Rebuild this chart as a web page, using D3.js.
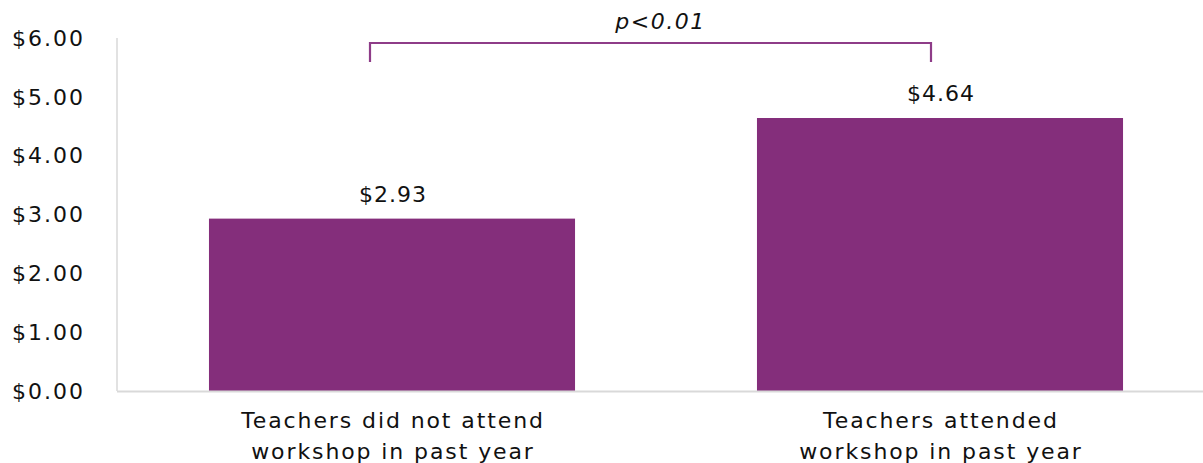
<!DOCTYPE html>
<html>
<head>
<meta charset="utf-8">
<script src="https://cdn.jsdelivr.net/npm/d3@7"></script>
<style>
  html, body { margin: 0; padding: 0; background: #ffffff; }
  svg { display: block; }
  text { font-family: "DejaVu Sans", sans-serif; fill: #111111; }
</style>
</head>
<body>
<svg id="chart" width="1203" height="463"></svg>
<script>
// Average spending per teacher, by workshop attendance
const categories = [
  ["Teachers did not attend", "workshop in past year"],
  ["Teachers attended", "workshop in past year"]
];
const values = [2.93, 4.64];
const valueLabels = ["$2.93", "$4.64"];
const yTicks = [0, 1, 2, 3, 4, 5, 6];
const significance = "p<0.01";

const barColor = "#842E7B";
const bracketColor = "#8E3C88";
const axisColor = "#d9d9d9";

const svg = d3.select("#chart");

const x = d3.scaleBand()
  .domain(d3.range(values.length))
  .range([118, 1214])
  .paddingInner(0.332)
  .paddingOuter(0.166);

const y = d3.scaleLinear().domain([0, 6]).range([391, 38]);

// y axis: line plus dollar labels
svg.append("line")
  .attr("x1", 117).attr("x2", 117)
  .attr("y1", y(6)).attr("y2", y(0))
  .attr("stroke", axisColor).attr("stroke-width", 1.5);

svg.append("g").selectAll("text")
  .data(yTicks)
  .join("text")
  .attr("x", 85)
  .attr("y", d => y(d))
  .attr("dy", "0.35em")
  .attr("text-anchor", "end")
  .style("font-size", "22px")
  .style("letter-spacing", "2px")
  .text(d => "$" + d.toFixed(2));

// bars
svg.append("g").selectAll("rect")
  .data(values)
  .join("rect")
  .attr("x", (d, i) => x(i))
  .attr("width", x.bandwidth())
  .attr("y", d => y(d))
  .attr("height", d => y(0) - y(d))
  .attr("fill", barColor);

// baseline
svg.append("line")
  .attr("x1", 117).attr("x2", 1203)
  .attr("y1", y(0) + 0.5).attr("y2", y(0) + 0.5)
  .attr("stroke", axisColor).attr("stroke-width", 2);

// value labels
svg.append("g").selectAll("text")
  .data(values)
  .join("text")
  .attr("x", (d, i) => x(i) + x.bandwidth() / 2 + 1)
  .attr("y", d => y(d) - 17)
  .attr("text-anchor", "middle")
  .style("font-size", "22px")
  .style("letter-spacing", "1px")
  .text((d, i) => valueLabels[i]);

// category labels
const cat = svg.append("g").selectAll("text")
  .data(categories)
  .join("text")
  .attr("x", (d, i) => x(i) + x.bandwidth() / 2 + 1)
  .attr("y", 428)
  .attr("text-anchor", "middle")
  .style("font-size", "22px")
  .style("letter-spacing", "1.9px");
cat.selectAll("tspan")
  .data(d => d)
  .join("tspan")
  .attr("x", function () { return d3.select(this.parentNode).attr("x"); })
  .attr("dy", (d, i) => i === 0 ? 0 : 31)
  .text(d => d);

// significance bracket between the two bars
const bx1 = x(0) + x.bandwidth() / 2 - 22;
const bx2 = x(1) + x.bandwidth() / 2 - 9;
svg.append("path")
  .attr("d", `M${bx1},62 V43 H${bx2} V62`)
  .attr("fill", "none")
  .attr("stroke", bracketColor)
  .attr("stroke-width", 2.2);

svg.append("text")
  .attr("x", (bx1 + bx2) / 2 + 10)
  .attr("y", 29)
  .attr("text-anchor", "middle")
  .style("font-size", "22px")
  .style("font-style", "italic")
  .style("letter-spacing", "1.5px")
  .text(significance);
</script>
</body>
</html>
